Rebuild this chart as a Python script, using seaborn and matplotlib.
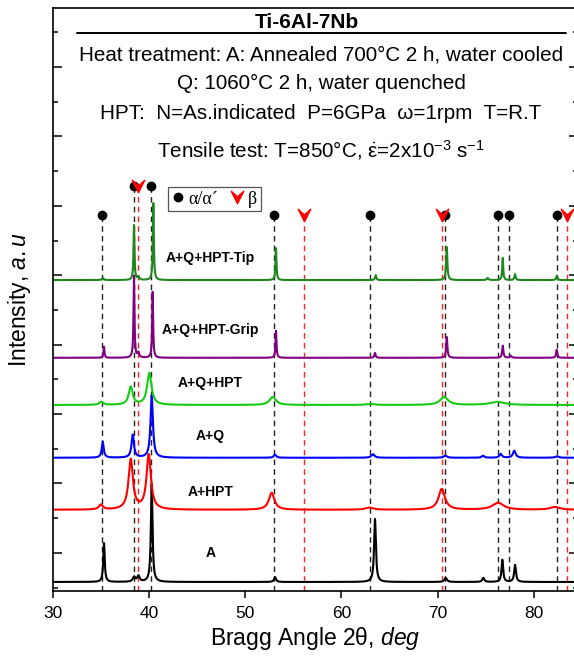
import numpy as np
import pandas as pd
import matplotlib
matplotlib.use("Agg")
import matplotlib.pyplot as plt
from matplotlib.path import Path
from matplotlib.lines import Line2D
from matplotlib.ticker import MultipleLocator
import seaborn as sns

# ---------------------------------------------------------------- data
# reference reflections (2theta, deg)
alpha_pos = [35.08, 38.44, 40.18, 53.03, 62.97, 70.74, 76.31, 77.45, 82.44]
alpha_mark = [4870, 5290, 5290, 4870, 4870, 4870, 4870, 4870, 4870]
beta_pos = [38.86, 56.14, 70.43, 83.48]
beta_mark = [5290, 4870, 4870, 4870]

# samples (bottom to top): stacking offset, label, label height, colour
samples = ["A", "A+HPT", "A+Q", "A+Q+HPT", "A+Q+HPT-Grip", "A+Q+HPT-Tip"]
offsets = [-420, 620, 1370, 2130, 2810, 3930]
label_y = [0, 875, 1680, 2450, 3210, 4250]
colors = ["#000000", "#ff0000", "#0000ff", "#14cc14", "#800080", "#1d861d"]

# fitted peaks per sample: centre (deg), height (a.u.), FWHM (deg)
A_c = [35.32, 38.44, 38.90, 40.28, 53.10, 63.49, 70.84, 74.75, 76.73, 78.05]
A_h = [560, 70, 85, 1410, 70, 910, 60, 60, 320, 245]
A_w = [0.18, 0.3, 0.3, 0.2, 0.25, 0.22, 0.3, 0.25, 0.2, 0.22]

AH_c = [35.0, 38.10, 39.97, 52.75, 62.9, 70.43, 76.28, 82.2]
AH_h = [70, 720, 790, 245, 30, 300, 100, 40]
AH_w = [0.5, 0.55, 0.55, 0.7, 1.0, 0.8, 1.4, 1.2]

AQ_c = [35.19, 38.31, 40.28, 53.1, 63.28, 70.8, 74.72, 76.56, 77.97, 82.4]
AQ_h = [230, 330, 895, 45, 50, 30, 30, 55, 100, 20]
AQ_w = [0.25, 0.3, 0.3, 0.3, 0.4, 0.4, 0.3, 0.3, 0.35, 0.4]

AQH_c = [35.05, 38.10, 40.03, 52.86, 63.0, 70.67, 76.2]
AQH_h = [45, 260, 460, 115, 15, 115, 45]
AQH_w = [0.5, 0.5, 0.55, 0.8, 1.0, 1.0, 1.8]

GRIP_c = [35.32, 38.44, 38.9, 40.38, 53.20, 63.49, 70.95, 76.77, 77.6, 82.38]
GRIP_h = [160, 1180, 70, 950, 390, 70, 300, 175, 30, 115]
GRIP_w = [0.12, 0.12, 0.2, 0.12, 0.12, 0.15, 0.15, 0.15, 0.2, 0.15]

TIP_c = [35.2, 38.44, 38.9, 40.45, 53.20, 63.56, 70.95, 75.2, 76.77, 78.05, 82.38]
TIP_h = [30, 790, 45, 1110, 460, 70, 475, 30, 320, 85, 60]
TIP_w = [0.2, 0.12, 0.2, 0.12, 0.12, 0.15, 0.15, 0.2, 0.12, 0.15, 0.15]

peaks = [(A_c, A_h, A_w), (AH_c, AH_h, AH_w), (AQ_c, AQ_h, AQ_w),
         (AQH_c, AQH_h, AQH_w), (GRIP_c, GRIP_h, GRIP_w), (TIP_c, TIP_h, TIP_w)]

header = [
    "Heat treatment: A: Annealed 700°C 2 h, water cooled",
    "Q: 1060°C 2 h, water quenched",
    "HPT:  N=As.indicated  P=6GPa  ω=1rpm  T=R.T",
    r"Tensile test: T=850°C, $\dot{\mathrm{\varepsilon}}$=2x10$^{-3}$ s$^{-1}$",
]

# ---------------------------------------------------------------- style
sns.set_theme(style="ticks")
plt.rcParams["font.family"] = ["Liberation Sans", "DejaVu Sans"]
plt.rcParams["mathtext.fontset"] = "custom"
plt.rcParams["mathtext.rm"] = "Liberation Sans"
plt.rcParams["mathtext.it"] = "Liberation Sans:italic"
plt.rcParams["mathtext.bf"] = "Liberation Sans:bold"
for key in ["text.color", "axes.labelcolor", "xtick.color", "ytick.color",
            "axes.edgecolor"]:
    plt.rcParams[key] = "black"

W, H = 574, 660
fig = plt.figure(figsize=(W / 100, H / 100), dpi=100)
ax = fig.add_axes([52.8 / W, 1 - 591 / H, (578 - 52.8) / W, (591 - 8) / H])

two_theta = np.arange(30.0, 84.6, 0.01)


def pattern(centres, heights, widths):
    y = np.zeros_like(two_theta)
    for c, h, w in zip(centres, heights, widths):
        y += h / (1.0 + ((two_theta - c) / (w / 2.0)) ** 2)
    return y


ymin = -550

# reflection guide lines and markers
ax.vlines(alpha_pos, ymin, alpha_mark, colors="#222222", linestyles=(0, (4, 3)),
          lw=1.0, zorder=1)
ax.vlines(beta_pos, ymin, beta_mark, colors="#ff2020", linestyles=(0, (4, 3)),
          lw=1.0, zorder=1)

# downward arrow-head marker for beta
chevron = Path([(0, -1), (1, 1), (0, 0.1), (-1, 1), (0, -1)],
               [Path.MOVETO, Path.LINETO, Path.LINETO, Path.LINETO, Path.CLOSEPOLY])

ax.plot(alpha_pos, alpha_mark, ls="none", marker="o", ms=6, color="black", zorder=4)
ax.plot(beta_pos, beta_mark, ls="none", marker=chevron, ms=9, color="red",
        mec="red", zorder=4)

# diffraction patterns
for name, off, col, (c, h, w) in zip(samples, offsets, colors, peaks):
    df = pd.DataFrame({"two_theta": two_theta, "intensity": pattern(c, h, w) + off})
    sns.lineplot(data=df, x="two_theta", y="intensity", color=col, lw=1.5,
                 estimator=None, sort=False, ax=ax, zorder=2)

for name, ly in zip(samples, label_y):
    ax.text(46.4, ly, name, ha="center", va="center", fontsize=10,
            fontweight="bold", zorder=5)

# axes
ax.set_xlim(30, 30 + (578 - 52.8) / 9.62)
ax.set_ylim(ymin, 7850)
ax.xaxis.set_major_locator(MultipleLocator(10))
ax.yaxis.set_major_locator(MultipleLocator(1000))
ax.yaxis.set_minor_locator(MultipleLocator(500))
ax.tick_params(axis="x", which="major", direction="out", length=5, width=1.1,
               labelsize=12.5, pad=6, colors="black")
ax.tick_params(axis="y", which="both", direction="in", left=True, right=True,
               labelleft=False, width=1.1)
ax.tick_params(axis="y", which="major", length=6.5)
ax.tick_params(axis="y", which="minor", length=3.3)
for s in ax.spines.values():
    s.set_linewidth(1.2)
    s.set_color("black")

ax.set_xlabel(r"Bragg Angle 2θ, $\mathit{deg}$", fontsize=16.5, labelpad=3)
ax.set_ylabel(r"Intensity, $\mathit{a.u}$", fontsize=16.5, labelpad=14)

# legend
h_a = Line2D([], [], ls="none", marker="o", ms=6, color="black")
h_b = Line2D([], [], ls="none", marker=chevron, ms=9, color="red")
leg = ax.legend([h_a, h_b], ["α/α´", "β"], ncol=2, loc="upper left",
                bbox_to_anchor=(167.7 / W, 1 - 187 / H), bbox_transform=fig.transFigure,
                frameon=True, fancybox=False, edgecolor="#555555", framealpha=1,
                prop={"family": "Liberation Serif", "size": 13},
                handlelength=0.7, handletextpad=0.25, columnspacing=0.7,
                borderpad=0.2, borderaxespad=0)
leg.get_frame().set_linewidth(0.9)

# header block
fig.text(306.5 / W, 1 - 28.5 / H, "Ti-6Al-7Nb", ha="center", va="baseline",
         fontsize=15, fontweight="bold")
fig.add_artist(Line2D([77 / W, 566 / W], [1 - 32.5 / H] * 2,
                      transform=fig.transFigure, color="black", lw=1.4))
for txt, yb in zip(header, [60.5, 89, 119, 157]):
    fig.text(321 / W, 1 - yb / H, txt, ha="center", va="baseline", fontsize=14.9)

fig.savefig("out.png", dpi=100)
